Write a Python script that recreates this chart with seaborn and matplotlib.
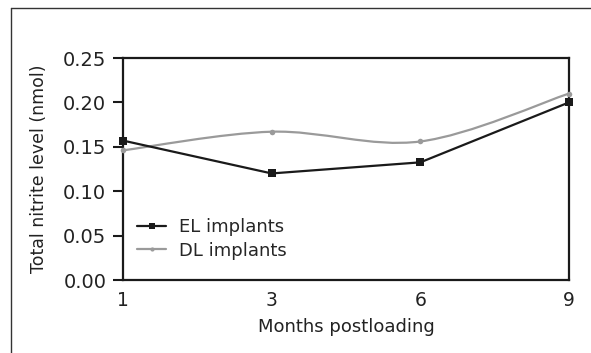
import numpy as np
import pandas as pd
import matplotlib
matplotlib.use("Agg")
import matplotlib.pyplot as plt
from matplotlib.path import Path
from matplotlib.patches import PathPatch
from matplotlib.lines import Line2D
import seaborn as sns

months = ["1", "3", "6", "9"]
el_values = [0.157, 0.120, 0.1325, 0.200]
dl_values = [0.146, 0.167, 0.156, 0.210]
series_names = ["EL implants", "DL implants"]
y_ticks = [0.00, 0.05, 0.10, 0.15, 0.20, 0.25]

sns.set_theme(style="white")
plt.rcParams["font.family"] = ["DejaVu Sans"]

df = pd.DataFrame({
    "month": months * 2,
    "pos": list(range(len(months))) * 2,
    "value": el_values + dl_values,
    "series": [series_names[0]] * len(months) + [series_names[1]] * len(months),
})

fig = plt.figure(figsize=(5.91, 3.53), dpi=100)
ax = fig.add_axes([123 / 591, 1 - 280 / 353, (569 - 123) / 591, (280 - 58) / 353])

colors = {series_names[0]: "#1a1a1a", series_names[1]: "#9a9a9a"}
markers = {series_names[0]: "s", series_names[1]: "o"}
sizes = {series_names[0]: 6, series_names[1]: 4}


def smooth_path(xs, ys):
    xs = np.asarray(xs, float)
    ys = np.asarray(ys, float)
    n = len(xs)
    verts = [(xs[0], ys[0])]
    codes = [Path.MOVETO]
    for i in range(n - 1):
        p0 = np.array([xs[max(i - 1, 0)], ys[max(i - 1, 0)]])
        p1 = np.array([xs[i], ys[i]])
        p2 = np.array([xs[i + 1], ys[i + 1]])
        p3 = np.array([xs[min(i + 2, n - 1)], ys[min(i + 2, n - 1)]])
        c1 = p1 + (p2 - p0) / 6.0
        c2 = p2 - (p3 - p1) / 6.0
        verts += [tuple(c1), tuple(c2), tuple(p2)]
        codes += [Path.CURVE4] * 3
    return Path(verts, codes)


# DL implants: smoothed line
dl = df[df["series"] == series_names[1]]
ax.add_patch(PathPatch(smooth_path(dl["pos"], dl["value"]), facecolor="none",
                       edgecolor=colors[series_names[1]], lw=1.6, zorder=3, clip_on=False))
sns.scatterplot(data=dl, x="pos", y="value", ax=ax, color=colors[series_names[1]],
                marker="o", s=sizes[series_names[1]] ** 2, linewidth=0, zorder=4,
                clip_on=False, legend=False)

# EL implants: straight segments
el = df[df["series"] == series_names[0]]
sns.lineplot(data=el, x="pos", y="value", ax=ax, color=colors[series_names[0]],
             lw=1.6, marker="s", markersize=sizes[series_names[0]], markeredgewidth=0,
             zorder=5, clip_on=False, legend=False)

handles = [Line2D([], [], color=colors[n], lw=1.6, marker=markers[n],
                  markersize=sizes[n] - 1, markeredgewidth=0) for n in series_names]
ax.legend(handles, series_names, loc="center left",
          bbox_to_anchor=(0.0, (280 - 239) / 222),
          frameon=False, fontsize=13, handlelength=1.6, handletextpad=0.7,
          labelspacing=0.3, borderaxespad=0.5, borderpad=0.3)

ax.set_xlim(0, len(months) - 1)
ax.set_ylim(0, 0.25)
ax.set_xticks(range(len(months)))
ax.set_xticklabels(months)
ax.set_yticks(y_ticks)
ax.set_yticklabels([f"{v:.2f}" for v in y_ticks])
ax.tick_params(axis="y", direction="out", length=7, width=1.5, color="#1a1a1a",
               labelsize=14, pad=5, left=True, labelcolor="#222222")
ax.tick_params(axis="x", length=0, labelsize=13.5, pad=8, labelcolor="#222222")
ax.set_xlabel("Months postloading", fontsize=13, color="#222222", labelpad=6)
ax.set_ylabel("Total nitrite level (nmol)", fontsize=12.5, color="#222222", labelpad=11)
for side, sp in ax.spines.items():
    sp.set_visible(True)
    sp.set_color("#1a1a1a")
    sp.set_linewidth(1.6)

fig.add_artist(Line2D([11 / 591, 1.0], [1 - 8 / 353, 1 - 8 / 353], color="#333333", lw=1.0))
fig.add_artist(Line2D([11 / 591, 11 / 591], [0.0, 1 - 8 / 353], color="#333333", lw=1.0))

fig.savefig("out.png", dpi=100)
